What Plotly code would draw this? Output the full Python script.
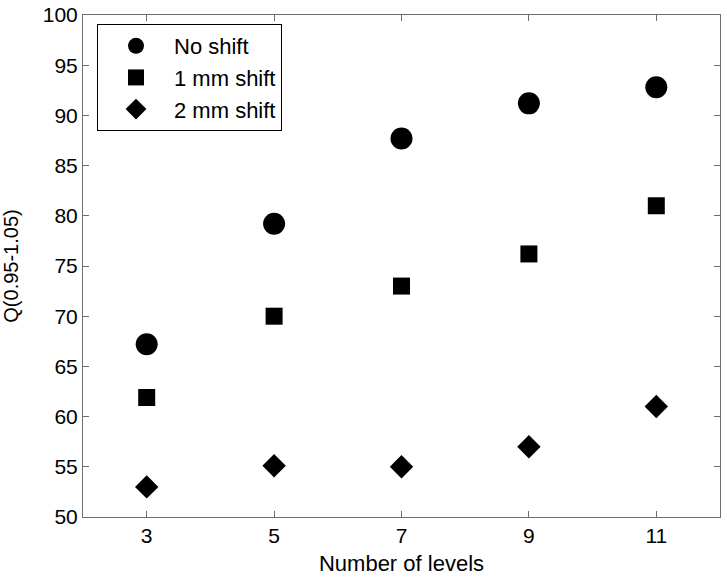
import plotly.graph_objs as go

levels = [3, 5, 7, 9, 11]
no_shift = [67.2, 79.2, 87.7, 91.2, 92.8]
shift_1mm = [61.9, 70.0, 73.0, 76.2, 81.0]
shift_2mm = [53.0, 55.1, 55.0, 57.0, 61.0]

font = dict(family="Liberation Sans, Arial, sans-serif", color="black")

traces = [
    go.Scatter(x=levels, y=no_shift, mode="markers", name="No shift",
               marker=dict(symbol="circle", size=22, color="black")),
    go.Scatter(x=levels, y=shift_1mm, mode="markers", name="1 mm shift",
               marker=dict(symbol="square", size=17, color="black")),
    go.Scatter(x=levels, y=shift_2mm, mode="markers", name="2 mm shift",
               marker=dict(symbol="diamond", size=18, color="black")),
]

axis_common = dict(
    showgrid=False, zeroline=False, showline=True, mirror="ticks",
    linecolor="#6e6e6e", linewidth=1, ticks="inside", ticklen=6,
    tickcolor="#6e6e6e", tickfont=dict(size=21, **font),
    ticklabeloverflow="allow", automargin=False,
)

layout = go.Layout(
    width=727, height=578,
    paper_bgcolor="white", plot_bgcolor="white",
    margin=dict(l=83, r=7, t=15, b=61),
    font=font,
    xaxis=dict(range=[2, 12], tickvals=levels,
               title=dict(text="Number of levels", font=dict(size=22, **font), standoff=9),
               **axis_common),
    yaxis=dict(range=[50, 100], dtick=5,
               title=dict(text="Q(0.95-1.05)", font=dict(size=20, **font), standoff=20),
               **axis_common),
    legend=dict(x=0.022, y=0.982, xanchor="left", yanchor="top",
                bordercolor="black", borderwidth=1, bgcolor="white",
                font=dict(size=22, **font), itemwidth=66,
                tracegroupgap=0),
    showlegend=True,
)

fig = go.Figure(data=traces, layout=layout)
# drop the default 8px body margin so the figure fills the window exactly
fig.write_html("out.html", config={"displayModeBar": False},
               post_script="document.body.style.margin = '0';")
